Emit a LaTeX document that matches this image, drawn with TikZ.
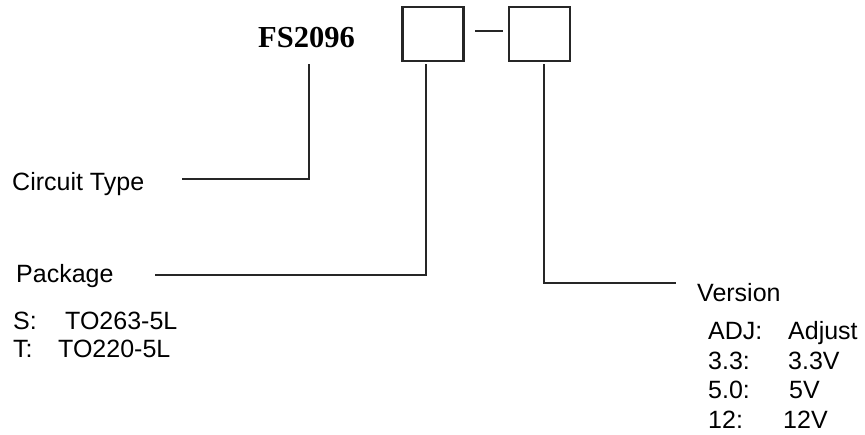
\documentclass[tikz,border=0pt]{standalone}
\usepackage{fontspec}
\setmainfont{Liberation Sans}
\newfontfamily\serifb{Liberation Serif}
\begin{document}
\begin{tikzpicture}[x=1pt,y=-1pt,
  lbl/.style={anchor=base west,inner sep=0pt,font=\fontsize{25}{25}\selectfont},
  ln/.style={line width=2pt,draw=black!85},
  boxc/.style={draw=black!85,line width=2.5pt,minimum width=61pt,minimum height=54pt,inner sep=0pt}]
\useasboundingbox (0,0) rectangle (865,434);
\node[anchor=base west,inner sep=0pt,font=\serifb\bfseries\fontsize{30.5}{30.5}\selectfont] (fs) at (258,47) {FS2096};
\node[boxc] (b1) at (433,34) {};
\node[boxc] (b2) at (539.5,34) {};
\coordinate (d1) at (475,31);
\coordinate (d2) at (503,31);
\draw[ln] (d1) -- (d2);
\node[lbl] (ct) at (12,190) {Circuit Type};
\node[lbl] (pk) at (16,282) {Package};
\node[lbl] (s) at (13,329) {S:};
\node[lbl] (s2) at (65,329) {TO263-5L};
\node[lbl] (t) at (13,357) {T:};
\node[lbl] (t2) at (58,357) {TO220-5L};
\node[lbl] (ver) at (697,301) {Version};
\node[lbl] (a1) at (708,339) {ADJ:};
\node[lbl] (a2) at (788,339) {Adjust};
\node[lbl] (c1) at (708,369) {3.3:};
\node[lbl] (c2) at (788,369) {3.3V};
\node[lbl] (e1) at (708,398) {5.0:};
\node[lbl] (e2) at (789,398) {5V};
\node[lbl] (f1) at (708,428) {12:};
\node[lbl] (f2) at (783,428) {12V};
\coordinate (p1) at (309,64);
\coordinate (p1e) at (182,179);
\coordinate (p2) at (426,64);
\coordinate (p2e) at (155,275);
\coordinate (p3) at (544,64);
\coordinate (p3e) at (676,283);
\draw[ln] (p1) |- (p1e);
\draw[ln] (p2) |- (p2e);
\draw[ln] (p3) |- (p3e);
\end{tikzpicture}
\end{document}
